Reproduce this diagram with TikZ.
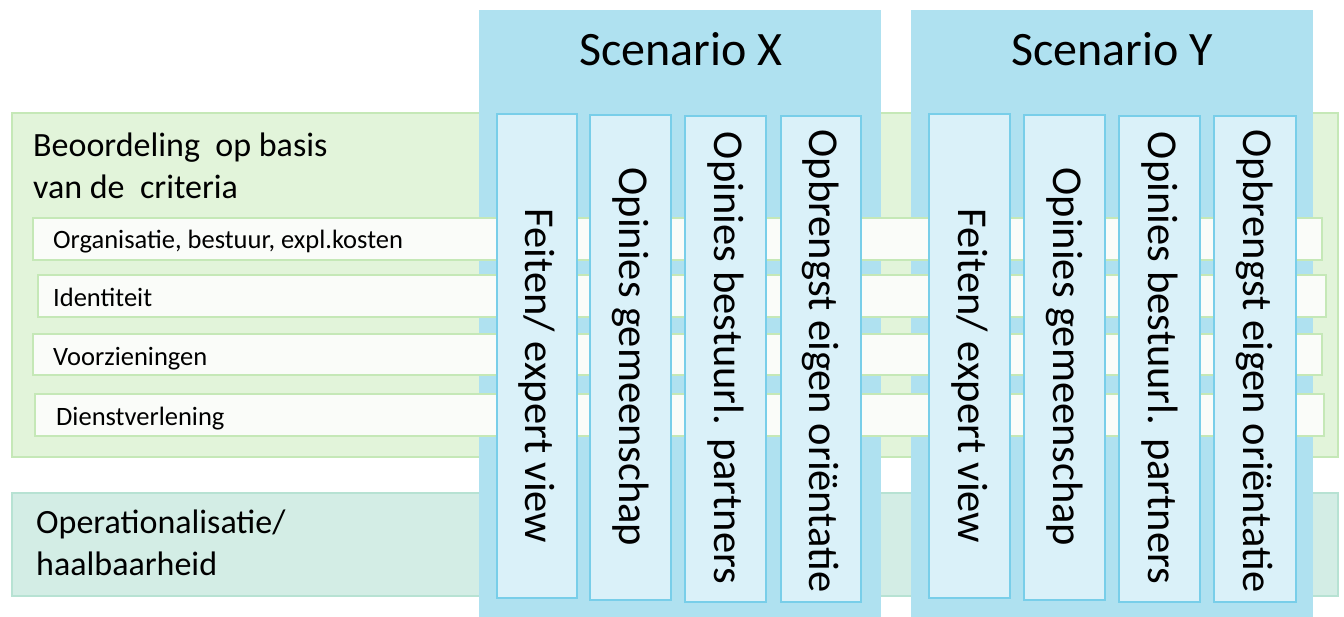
\documentclass[tikz,border=0pt]{standalone}
\usepackage{fontspec}
\setmainfont{Carlito}
\definecolor{scenbg}{RGB}{175,225,240}
\definecolor{colfill}{RGB}{218,241,249}
\definecolor{coldraw}{RGB}{120,206,233}
\definecolor{grfill}{RGB}{226,244,218}
\definecolor{grdraw}{RGB}{197,232,183}
\definecolor{rowfill}{RGB}{250,252,249}
\definecolor{tlfill}{RGB}{211,237,229}
\definecolor{tldraw}{RGB}{183,226,211}
\tikzset{
  boxbase/.style={rectangle, inner sep=0pt, outer sep=0pt},
  greenarea/.style={boxbase, fill=grfill, draw=grdraw, line width=2pt},
  tealarea/.style={boxbase, fill=tlfill, draw=tldraw, line width=2pt},
  scenarea/.style={boxbase, fill=scenbg},
  rowbar/.style={boxbase, fill=rowfill, draw=grdraw, line width=2.5pt},
  colbox/.style={boxbase, fill=colfill, draw=coldraw, line width=2pt},
  bigtxt/.style={inner sep=0pt, font=\fontsize{34}{42}\selectfont, align=left, anchor=west},
  rowtxt/.style={inner sep=0pt, font=\fontsize{26.5}{30}\selectfont, anchor=base west},
  scentxt/.style={inner sep=0pt, font=\fontsize{48}{56}\selectfont, anchor=base},
  coltxt/.style={inner sep=0pt, font=\fontsize{42.5}{50}\selectfont, rotate=-90}
}
\newcommand\bx[6]{\node[#2, minimum width={(#5-#3)*1pt}, minimum height={(#6-#4)*1pt}] (#1) at ({(#3+#5)/2},{(#4+#6)/2}) {};}
\begin{document}
\begin{tikzpicture}[x=1pt,y=-1pt]
\useasboundingbox (0,0) rectangle (1344,616);
% background areas
\bx{crit}{greenarea}{12}{113}{1338}{457}
\bx{oper}{tealarea}{12}{493}{1338}{596}
% scenario columns
\bx{scX}{scenarea}{479}{10}{881}{620}
\bx{scY}{scenarea}{911}{10}{1313}{620}
% criteria rows
\bx{r1}{rowbar}{33}{218}{1322}{260}
\bx{r2}{rowbar}{38}{275}{1326}{317}
\bx{r3}{rowbar}{33}{334}{1322}{375}
\bx{r4}{rowbar}{35}{394}{1324}{436}
% inner columns X
\bx{x1}{colbox}{497}{114}{577}{598}
\bx{x2}{colbox}{590}{115}{671}{600}
\bx{x3}{colbox}{685}{116}{766}{602}
\bx{x4}{colbox}{781}{116}{861}{602}
% inner columns Y
\bx{y1}{colbox}{929}{114}{1010}{598}
\bx{y2}{colbox}{1024}{115}{1105}{600}
\bx{y3}{colbox}{1119}{116}{1200}{602}
\bx{y4}{colbox}{1214}{116}{1296}{602}
% texts
\node[scentxt] (tX) at (681,65) {Scenario X};
\node[scentxt] (tY) at (1112,65) {Scenario Y};
\node[bigtxt] (tcrit) at (33,166) {Beoordeling\ \ op basis\\van de\ \ criteria};
\node[bigtxt] (toper) at (36,543) {Operationalisatie/\\haalbaarheid};
\node[rowtxt] (t1) at (53,248) {Organisatie, bestuur, expl.kosten};
\node[rowtxt] (t2) at (53,306) {Identiteit};
\node[rowtxt] (t3) at (53,365) {Voorzieningen};
\node[rowtxt] (t4) at (56,425) {Dienstverlening};
\foreach \c/\s in {x/537, y/969.5}{
  \node[coltxt] (\c t1) at (\s,376) {Feiten/ expert view};
}
\node[coltxt] (xt2) at (630.5,357) {Opinies gemeenschap};
\node[coltxt] (xt3) at (725.5,358) {Opinies bestuurl. partners};
\node[coltxt] (xt4) at (821,361) {Opbrengst eigen oriëntatie};
\node[coltxt] (yt2) at (1064.5,357) {Opinies gemeenschap};
\node[coltxt] (yt3) at (1159.5,358) {Opinies bestuurl. partners};
\node[coltxt] (yt4) at (1255,361) {Opbrengst eigen oriëntatie};
\end{tikzpicture}
\end{document}
